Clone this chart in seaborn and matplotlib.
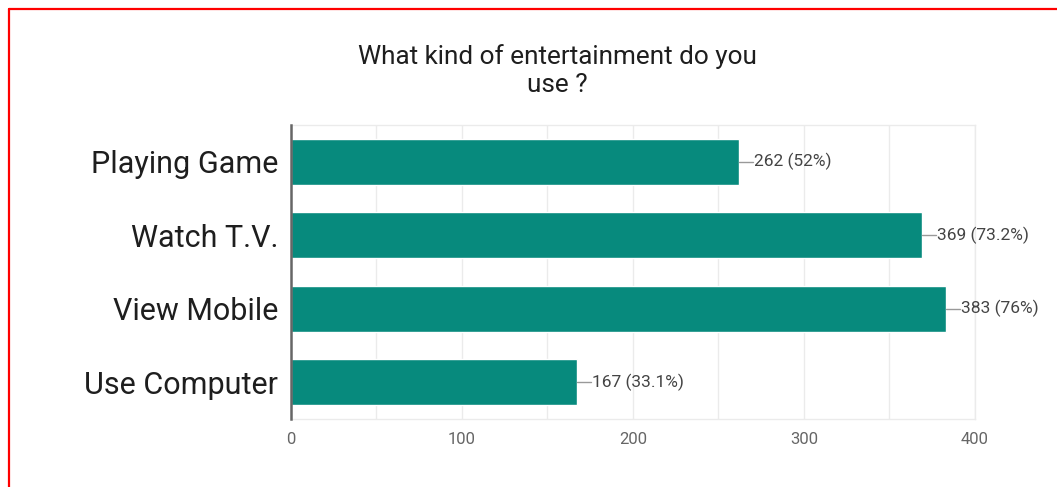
import matplotlib
matplotlib.use("Agg")
import matplotlib.pyplot as plt
import seaborn as sns
import pandas as pd
from matplotlib.lines import Line2D

# Survey responses
categories = ["Playing Game", "Watch T.V.", "View Mobile", "Use Computer"]
counts = [262, 369, 383, 167]
percents = ["52%", "73.2%", "76%", "33.1%"]
x_ticks = [0, 100, 200, 300, 400]

sns.set_theme(style="white")
plt.rcParams["font.family"] = ["Roboto", "DejaVu Sans"]

df = pd.DataFrame({"option": categories, "count": counts})

fig = plt.figure(figsize=(10.57, 4.87), dpi=100)
ax = fig.add_axes([0.2753, 0.1396, 0.6471, 0.6037])

bar_color = "#078a7d"
sns.barplot(data=df, x="count", y="option", orient="h", color=bar_color,
            saturation=1, width=0.62, ax=ax, zorder=3)

ax.set_xlim(0, 400)
ax.set_ylim(3.5, -0.5)
ax.set_xticks(x_ticks)
ax.set_xticks(range(50, 400, 100), minor=True)
ax.grid(axis="x", which="both", color="#ebebeb", linewidth=1, zorder=0)
ax.set_xlabel("")
ax.set_ylabel("")

for side in ["top", "right", "bottom"]:
    ax.spines[side].set_color("#ebebeb")
    ax.spines[side].set_linewidth(1)
ax.spines["left"].set_color("#666666")
ax.spines["left"].set_linewidth(1.8)
ax.spines["left"].set_zorder(4)

ax.tick_params(axis="x", which="both", length=0, pad=9, labelsize=12,
               labelcolor="#666666")
ax.tick_params(axis="y", length=0, pad=9, labelsize=22, labelcolor="#1e1e1e")

# Value labels, each joined to its bar by a short leader line
px_per_unit = ax.get_position().width * fig.get_figwidth() * fig.dpi / 400
for i, (c, p) in enumerate(zip(counts, percents)):
    ax.plot([c, c + 14 / px_per_unit], [i, i], color="#999999", linewidth=1,
            clip_on=False, zorder=3)
    ax.annotate(f"{c} ({p})", xy=(c, i), xytext=(15, 0),
                textcoords="offset pixels", ha="left", va="center",
                fontsize=12.5, color="#444444", annotation_clip=False)

fig.text(0.527, 0.855, "What kind of entertainment do you\nuse ?",
         ha="center", va="center", fontsize=18.8, color="#1e1e1e",
         linespacing=1.25)

# Red frame along the left and top edges
fig.add_artist(Line2D([9 / 1057, 9 / 1057], [0, 1 - 9 / 487],
                      transform=fig.transFigure, color="red", linewidth=1.6))
fig.add_artist(Line2D([9 / 1057, 1], [1 - 9 / 487, 1 - 9 / 487],
                      transform=fig.transFigure, color="red", linewidth=1.6))

fig.savefig("out.png", dpi=100, facecolor="white")
